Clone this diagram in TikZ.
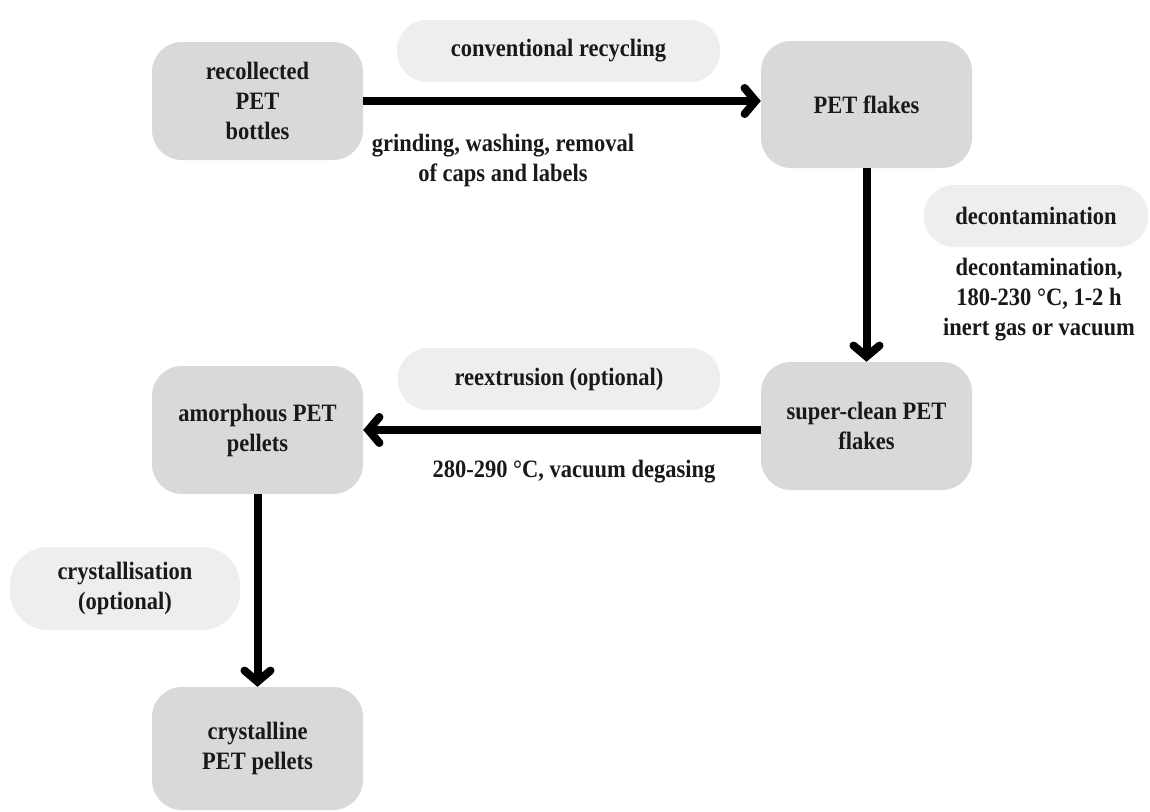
\documentclass[tikz,border=0pt]{standalone}
\usepackage{fontspec}
\setmainfont{Liberation Serif}[FakeStretch=0.9]
\usepackage{tikz}
\usetikzlibrary{arrows.meta}
\definecolor{boxgray}{RGB}{217,217,217}
\definecolor{pillgray}{RGB}{238,238,238}
\tikzset{
  txt/.style={align=center,font=\fontsize{25}{30}\selectfont\bfseries,text=black!90},
  stage/.style={txt,fill=boxgray,rounded corners=30pt,minimum width=211pt,inner sep=0pt},
  pill/.style={txt,fill=pillgray,rounded corners=30pt,inner sep=0pt},
  flow/.style={line width=8pt,-{Straight Barb[length=11pt,width=26pt,line cap=round]}}
}
\begin{document}
\begin{tikzpicture}[x=1pt,y=-1pt]
            \useasboundingbox (0,0) rectangle (1150,811);

            \node[stage,minimum height=118pt] (bottles) at (257.5,101) {recollected\\PET\\bottles};
            \node[stage,minimum height=127pt] (flakes) at (866.5,104.5) {PET flakes};
            \node[stage,minimum height=128pt] (cleanflakes) at (866.5,426) {super-clean PET\\flakes};
            \node[stage,minimum height=128pt] (amorph) at (257.5,430) {amorphous PET\\pellets};
            \node[stage,minimum height=123pt] (crystal) at (257.5,748.5) {crystalline\\PET pellets};

            \node[pill,minimum width=323pt,minimum height=62pt] (recyc) at (558.5,51) {conventional recycling};
            \node[pill,minimum width=224pt,minimum height=62pt] (decon) at (1036,216) {decontamination};
            \node[pill,minimum width=322pt,minimum height=62pt] (reext) at (559,379) {reextrusion (optional)};
            \node[pill,minimum width=230pt,minimum height=83pt,rounded corners=38pt] (cryst) at (125,588.5) {crystallisation\\(optional)};

            \node[txt] (grindtxt) at (503,160) {grinding, washing, removal\\of caps and labels};
            \node[txt] (decontxt) at (1039,300) {decontamination,\\180-230 °C, 1-2 h\\inert gas or vacuum};
            \node[txt] (degastxt) at (574,472) {280-290 °C, vacuum degasing};

            \draw[flow] (bottles.east) -- (flakes.west |- bottles.east);
            \draw[flow] (flakes.south) -- (cleanflakes.north);
            \draw[flow] (cleanflakes.west |- amorph.east) -- (amorph.east);
            \draw[flow] (amorph.south) -- (crystal.north);
\end{tikzpicture}
\end{document}
